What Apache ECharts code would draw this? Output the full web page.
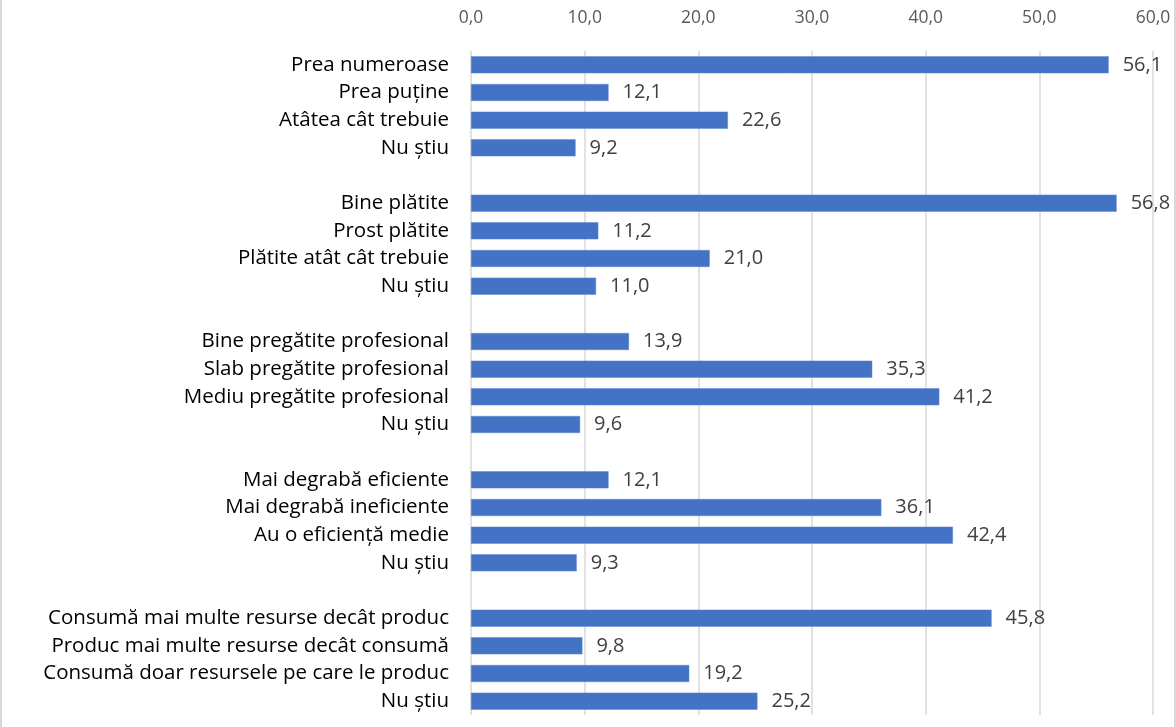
<!DOCTYPE html>
<html>
<head>
<meta charset="utf-8">
<script src="https://cdn.jsdelivr.net/npm/echarts@6/dist/echarts.min.js"></script>
<style>
  html, body { margin: 0; padding: 0; background: #fff; }
  #main { width: 1176px; height: 727px; box-sizing: border-box; border-left: 2px solid #d9d9d9; border-right: 2px solid #d9d9d9; }
</style>
</head>
<body>
<div id="main"></div>
<script>
// categorii (cele goale fac spatiile dintre grupuri)
var categories = [
  'Prea numeroase', 'Prea puține', 'Atâtea cât trebuie', 'Nu știu', '',
  'Bine plătite', 'Prost plătite', 'Plătite atât cât trebuie', 'Nu știu ', ' ',
  'Bine pregătite profesional', 'Slab pregătite profesional', 'Mediu pregătite profesional', 'Nu știu  ', '  ',
  'Mai degrabă eficiente', 'Mai degrabă ineficiente', 'Au o eficiență medie', 'Nu știu   ', '   ',
  'Consumă mai multe resurse decât produc', 'Produc mai multe resurse decât consumă', 'Consumă doar resursele pe care le produc', 'Nu știu    '
];
var values = [
  56.1, 12.1, 22.6, 9.2, null,
  56.8, 11.2, 21.0, 11.0, null,
  13.9, 35.3, 41.2, 9.6, null,
  12.1, 36.1, 42.4, 9.3, null,
  45.8, 9.8, 19.2, 25.2
];
var xTicks = [0, 10, 20, 30, 40, 50, 60];

function fmt(v) {
  return Number(v).toFixed(1).replace('.', ',');
}

var chart = echarts.init(document.getElementById('main'));
var option = {
  animation: false,
  textStyle: { fontFamily: 'Open Sans' },
  grid: {
    left: 469,
    right: 21,
    top: 51,
    bottom: 12
  },
  xAxis: {
    type: 'value',
    position: 'top',
    min: xTicks[0],
    max: xTicks[xTicks.length - 1],
    interval: 10,
    axisLine: { show: false },
    axisTick: { show: false },
    axisLabel: {
      color: '#595959',
      fontSize: 17.5,
      margin: 24,
      formatter: function (v) { return fmt(v); }
    },
    splitLine: { lineStyle: { color: '#d9d9d9', width: 1.5 } }
  },
  yAxis: {
    type: 'category',
    inverse: true,
    data: categories,
    axisLine: { show: false },
    axisTick: { show: false },
    axisLabel: {
      color: '#000',
      fontSize: 20.5,
      margin: 22,
      formatter: function (v) { return v.trim(); }
    }
  },
  series: [{
    type: 'bar',
    data: values,
    barWidth: 17,
    itemStyle: { color: '#4472C4', borderColor: '#5b86d6', borderWidth: 0.5 },
    label: {
      show: true,
      position: 'right',
      distance: 14,
      color: '#404040',
      fontSize: 20,
      formatter: function (p) { return fmt(p.value); }
    }
  }]
};
chart.setOption(option);
</script>
</body>
</html>
